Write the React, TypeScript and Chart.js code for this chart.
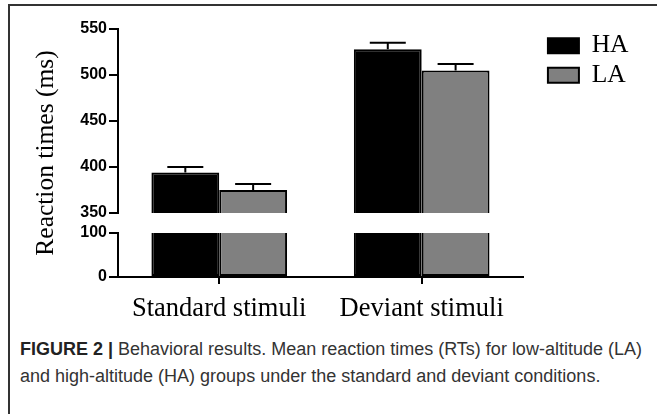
import React, { useEffect, useRef } from "react";
import { Chart, registerables } from "chart.js";

Chart.register(...registerables);

// ---- data ----
const categories = ["Standard stimuli", "Deviant stimuli"];
const seriesNames = ["HA", "LA"];
const haMeans = [394, 528];
const laMeans = [375, 505];
const haErrors = [6, 7];
const laErrors = [6.5, 7];
const upperTicks = [350, 400, 450, 500, 550];
const lowerTicks = [0, 100];
const yAxisTitle = "Reaction times (ms)";

const lowerMax = lowerTicks[lowerTicks.length - 1];
const upperMin = upperTicks[0];
const upperMax = upperTicks[upperTicks.length - 1];

const HA_COLOR = "#000000";
const LA_COLOR = "#808080";

const SERIF = "'Liberation Serif', 'Times New Roman', serif";
const SANS = "'Liberation Sans', Arial, sans-serif";

const errorBarPlugin = {
  id: "errorBars",
  afterDatasetsDraw(chart: any) {
    const ctx = chart.ctx;
    chart.data.datasets.forEach((ds: any, di: number) => {
      if (!ds.errors) return;
      const meta = chart.getDatasetMeta(di);
      const yScale = chart.scales[ds.yAxisID];
      meta.data.forEach((bar: any, i: number) => {
        const v = ds.data[i];
        const e = ds.errors[i];
        const x = bar.x;
        const yCap = yScale.getPixelForValue(v + e);
        ctx.save();
        ctx.strokeStyle = "#000";
        ctx.lineWidth = 2;
        ctx.beginPath();
        ctx.moveTo(x, bar.y);
        ctx.lineTo(x, yCap);
        ctx.moveTo(x - 18, yCap);
        ctx.lineTo(x + 18, yCap);
        ctx.stroke();
        ctx.restore();
      });
    });
  },
};

const hiddenAxis = {
  display: true,
  grid: { display: false },
  border: { display: false },
  ticks: { display: false },
};

export default function App() {
  const canvasRef = useRef<HTMLCanvasElement>(null);

  useEffect(() => {
    if (!canvasRef.current) return;
    const tickGrid = {
      display: true,
      drawOnChartArea: false,
      drawTicks: true,
      tickLength: 9,
      lineWidth: 2,
      color: "#000",
    };
    const yTicks = {
      color: "#000",
      padding: 2,
      font: { family: SANS, size: 16, weight: "bold" },
    };
    const chart = new Chart(canvasRef.current, {
      type: "bar",
      data: {
        labels: categories,
        datasets: [
          {
            label: seriesNames[0],
            data: haMeans,
            errors: haErrors,
            yAxisID: "yTop",
            stack: "HA",
            backgroundColor: HA_COLOR,
            borderColor: "#000",
            borderWidth: 2,
            borderSkipped: "start",
          },
          {
            label: seriesNames[1],
            data: laMeans,
            errors: laErrors,
            yAxisID: "yTop",
            stack: "LA",
            backgroundColor: LA_COLOR,
            borderColor: "#000",
            borderWidth: 2,
            borderSkipped: "start",
          },
          {
            label: seriesNames[0],
            data: haMeans.map((v) => Math.min(v, lowerMax)),
            yAxisID: "yBot",
            stack: "HA",
            backgroundColor: HA_COLOR,
            borderColor: "#000",
            borderWidth: 2,
            borderSkipped: "end",
          },
          {
            label: seriesNames[1],
            data: laMeans.map((v) => Math.min(v, lowerMax)),
            yAxisID: "yBot",
            stack: "LA",
            backgroundColor: LA_COLOR,
            borderColor: "#000",
            borderWidth: 2,
            borderSkipped: "end",
          },
        ] as any,
      },
      options: {
        responsive: false,
        animation: false,
        layout: { padding: { left: 31, top: 29, right: 18.5, bottom: 0 } },
        datasets: { bar: { categoryPercentage: 0.67, barPercentage: 1.0 } },
        plugins: {
          legend: {
            position: "right",
            align: "start",
            maxWidth: 200,
            labels: {
              filter: (item: any) => item.datasetIndex < 2,
              boxWidth: 31,
              boxHeight: 15,
              padding: 4,
              color: "#000",
              font: { family: SERIF, size: 25.5 },
            },
          },
          tooltip: { enabled: false },
        },
        scales: {
          x: {
            type: "category",
            offset: true,
            grid: {
              display: true,
              drawOnChartArea: false,
              drawTicks: true,
              tickLength: 7,
              offset: false,
              lineWidth: 2,
              color: "#000",
            },
            border: { display: true, width: 2, color: "#000" },
            ticks: { color: "#000", padding: 9, font: { family: SERIF, size: 26.5 } },
            afterFit: (s: any) => {
              s.height = 53;
            },
          },
          yTitle: {
            ...hiddenAxis,
            type: "linear",
            position: "left",
            weight: 10,
            title: {
              display: true,
              text: yAxisTitle,
              color: "#000",
              padding: 0,
              font: { family: SERIF, size: 25.5 },
            },
            afterFit: (s: any) => {
              s.width = 30;
            },
          },
          yTop: {
            type: "linear",
            position: "left",
            stack: "rt",
            stackWeight: 184,
            weight: 3,
            stacked: false,
            min: upperMin,
            max: upperMax,
            afterBuildTicks: (s: any) => {
              s.ticks = upperTicks.map((v) => ({ value: v }));
            },
            ticks: yTicks,
            grid: tickGrid,
            border: { display: true, width: 2, color: "#000" },
            afterFit: (s: any) => {
              s.width = 57;
            },
          },
          yGap: {
            ...hiddenAxis,
            type: "linear",
            position: "left",
            stack: "rt",
            stackWeight: 20,
            weight: 2,
            afterFit: (s: any) => {
              s.width = 57;
            },
          },
          yBot: {
            type: "linear",
            position: "left",
            stack: "rt",
            stackWeight: 44,
            weight: 1,
            stacked: false,
            min: 0,
            max: lowerMax,
            afterBuildTicks: (s: any) => {
              s.ticks = lowerTicks.map((v) => ({ value: v }));
            },
            ticks: yTicks,
            grid: tickGrid,
            border: { display: true, width: 2, color: "#000" },
            afterFit: (s: any) => {
              s.width = 57;
            },
          },
          spacer: {
            ...hiddenAxis,
            type: "linear",
            position: "right",
            afterFit: (s: any) => {
              s.width = 21;
            },
          },
        },
      } as any,
      plugins: [errorBarPlugin],
    });
    return () => chart.destroy();
  }, []);

  return (
    <div
      style={{
        position: "absolute",
        left: 0,
        top: 0,
        width: 657,
        height: 414,
        background: "#fff",
        overflow: "hidden",
      }}
    >
      <div
        style={{
          position: "absolute",
          left: 8,
          top: 4,
          width: 660,
          height: 420,
          borderTop: "2px solid #333",
          borderLeft: "2px solid #333",
        }}
      />
      <canvas
        ref={canvasRef}
        width={657}
        height={330}
        style={{ position: "absolute", left: 0, top: 0 }}
      />
      <div
        style={{
          position: "absolute",
          left: 20,
          top: 336,
          fontFamily: SANS,
          fontSize: 18,
          lineHeight: "27px",
          color: "#333",
          whiteSpace: "nowrap",
        }}
      >
        <span style={{ fontWeight: "bold", color: "#222" }}>FIGURE 2 |</span> Behavioral results. Mean reaction
        times (RTs) for low-altitude (LA)
        <br />
        and high-altitude (HA) groups under the standard and deviant conditions.
      </div>
    </div>
  );
}
